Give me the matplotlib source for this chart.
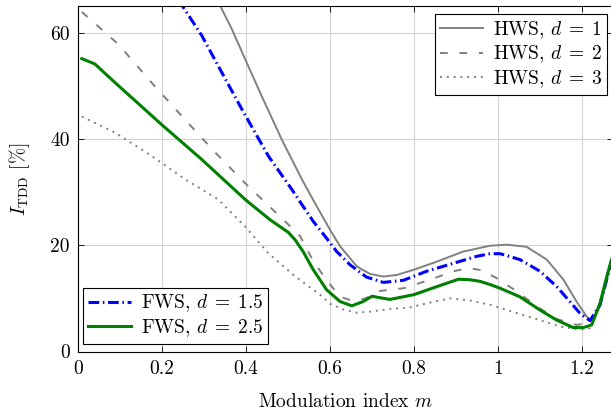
import matplotlib
matplotlib.use("Agg")
import matplotlib.pyplot as plt

plt.rcParams["font.family"] = "cmr10"
plt.rcParams["mathtext.fontset"] = "cm"
plt.rcParams["axes.formatter.use_mathtext"] = True
plt.rcParams["font.size"] = 14

# HWS, d = 1 (solid gray)
hws1_m = [0.325, 0.340, 0.366, 0.398, 0.437, 0.485, 0.533, 0.560, 0.600, 0.624, 0.664, 0.695,
          0.727, 0.759, 0.800, 0.854, 0.917, 0.981, 1.021, 1.068, 1.116, 1.156, 1.187, 1.211,
          1.223, 1.243, 1.263, 1.273]
hws1_thd = [67.3, 64.8, 60.7, 55.0, 48.1, 39.9, 32.4, 28.5, 22.9, 19.8, 16.0, 14.6,
            14.1, 14.4, 15.4, 16.9, 18.8, 19.9, 20.1, 19.7, 17.3, 13.5, 9.4, 6.6,
            5.8, 8.5, 14.8, 18.0]

# HWS, d = 2 (dashed gray)
hws2_m = [0.009, 0.096, 0.175, 0.247, 0.326, 0.405, 0.489, 0.529, 0.556, 0.588, 0.624, 0.655,
          0.685, 0.719, 0.775, 0.838, 0.894, 0.930, 0.960, 0.997, 1.045, 1.092, 1.140, 1.187,
          1.211, 1.225, 1.243, 1.263, 1.273]
hws2_thd = [63.9, 57.8, 50.6, 44.3, 37.5, 31.1, 24.8, 21.7, 17.6, 13.8, 10.3, 9.5,
            10.0, 11.4, 11.9, 13.5, 15.1, 15.7, 15.3, 13.8, 11.3, 8.5, 6.1, 5.0,
            5.3, 5.6, 8.8, 14.8, 18.0]

# HWS, d = 3 (dotted gray)
hws3_m = [0.009, 0.088, 0.175, 0.255, 0.334, 0.398, 0.453, 0.513, 0.545, 0.576, 0.600, 0.632,
          0.664, 0.695, 0.743, 0.790, 0.838, 0.886, 0.933, 0.981, 1.021, 1.084, 1.148, 1.195,
          1.219, 1.243, 1.263, 1.273]
hws3_thd = [44.2, 41.2, 36.8, 32.4, 28.6, 23.5, 18.5, 14.4, 12.5, 10.7, 9.0, 7.9,
            7.3, 7.5, 8.0, 8.3, 9.2, 10.0, 9.6, 8.8, 7.8, 6.3, 4.7, 4.1,
            4.4, 8.8, 14.8, 18.0]

# FWS, d = 1.5 (blue dash-dot)
fws15_m = [0.240, 0.247, 0.295, 0.334, 0.390, 0.453, 0.509, 0.536, 0.560, 0.588, 0.616, 0.648,
           0.687, 0.711, 0.727, 0.775, 0.830, 0.894, 0.949, 0.981, 1.005, 1.052, 1.100, 1.140,
           1.171, 1.195, 1.219, 1.243, 1.263, 1.273]
fws15_thd = [66.2, 65.2, 59.4, 53.7, 45.6, 36.8, 30.5, 27.3, 24.5, 21.7, 18.8, 16.3,
             14.0, 13.4, 13.0, 13.4, 15.1, 16.6, 17.9, 18.4, 18.4, 17.3, 15.1, 12.2,
             9.4, 7.2, 5.8, 8.8, 14.8, 18.0]

# FWS, d = 2.5 (green solid)
fws25_m = [0.009, 0.040, 0.088, 0.199, 0.295, 0.398, 0.457, 0.501, 0.517, 0.536, 0.560, 0.592,
           0.624, 0.652, 0.679, 0.700, 0.720, 0.743, 0.800, 0.854, 0.906, 0.933, 0.957, 0.981,
           1.005, 1.052, 1.100, 1.140, 1.179, 1.203, 1.223, 1.243, 1.259, 1.273]
fws25_thd = [55.1, 54.1, 50.6, 42.7, 36.1, 28.6, 24.8, 22.4, 21.0, 18.8, 15.4, 11.6,
             9.4, 8.6, 9.4, 10.4, 10.1, 9.8, 10.7, 12.2, 13.6, 13.5, 13.2, 12.6,
             11.9, 10.3, 7.8, 5.9, 4.5, 4.5, 5.0, 9.1, 14.1, 18.0]

x_ticks = [0, 0.2, 0.4, 0.6, 0.8, 1.0, 1.2]
x_tick_labels = ["0", "0.2", "0.4", "0.6", "0.8", "1", "1.2"]
y_ticks = [0, 20, 40, 60]
y_tick_labels = ["0", "20", "40", "60"]

gray = "#808080"
blue = "#0000ff"
green = "#008000"

fig = plt.figure(figsize=(6.11, 4.15), dpi=100)
ax = fig.add_axes([0.1277, 0.153, 0.875, 0.8325])

ax.grid(True, color="#d3d3d3", linewidth=0.8)
ax.set_axisbelow(True)

h1, = ax.plot(hws1_m, hws1_thd, color=gray, lw=1.4, label=r"HWS, $d\;=\;1$")
h2, = ax.plot(hws2_m, hws2_thd, color=gray, lw=1.4, linestyle=(0, (4, 6)),
              label=r"HWS, $d\;=\;2$")
h3, = ax.plot(hws3_m, hws3_thd, color=gray, lw=1.4, linestyle=(0, (1, 2.5)),
              label=r"HWS, $d\;=\;3$")
h4, = ax.plot(fws15_m, fws15_thd, color=blue, lw=2.2, linestyle=(0, (3.5, 1.2, 0.5, 1.2)),
              label=r"FWS, $d\;=\;1.5$")
h5, = ax.plot(fws25_m, fws25_thd, color=green, lw=2.2, label=r"FWS, $d\;=\;2.5$")

ax.set_xlim(0, 1.273)
ax.set_ylim(0, 65)
ax.set_xticks(x_ticks)
ax.set_xticklabels(x_tick_labels)
ax.set_yticks(y_ticks)
ax.set_yticklabels(y_tick_labels)
ax.tick_params(direction="in", length=4, width=0.6, top=True, right=True, pad=6,
               labelsize=14)
for s in ax.spines.values():
    s.set_linewidth(0.8)

ax.set_xlabel("Modulation index $m$", fontsize=14, labelpad=11)
ax.set_ylabel(r"$I_{\mathrm{TDD}}$ [%]", fontsize=14, labelpad=13)

leg_style = dict(fancybox=False, framealpha=1, edgecolor="black", fontsize=14,
                 borderpad=0.25, labelspacing=0.15, handlelength=2.2,
                 handletextpad=0.5, borderaxespad=0)
leg1 = ax.legend(handles=[h1, h2, h3], loc="upper right",
                 bbox_to_anchor=(0.99, 0.977), **leg_style)
leg1.get_frame().set_linewidth(0.8)
ax.add_artist(leg1)
leg2 = ax.legend(handles=[h4, h5], loc="lower left",
                 bbox_to_anchor=(0.0099, 0.0217), **leg_style)
leg2.get_frame().set_linewidth(0.8)

fig.savefig("out.png", dpi=100)
plt.close(fig)
